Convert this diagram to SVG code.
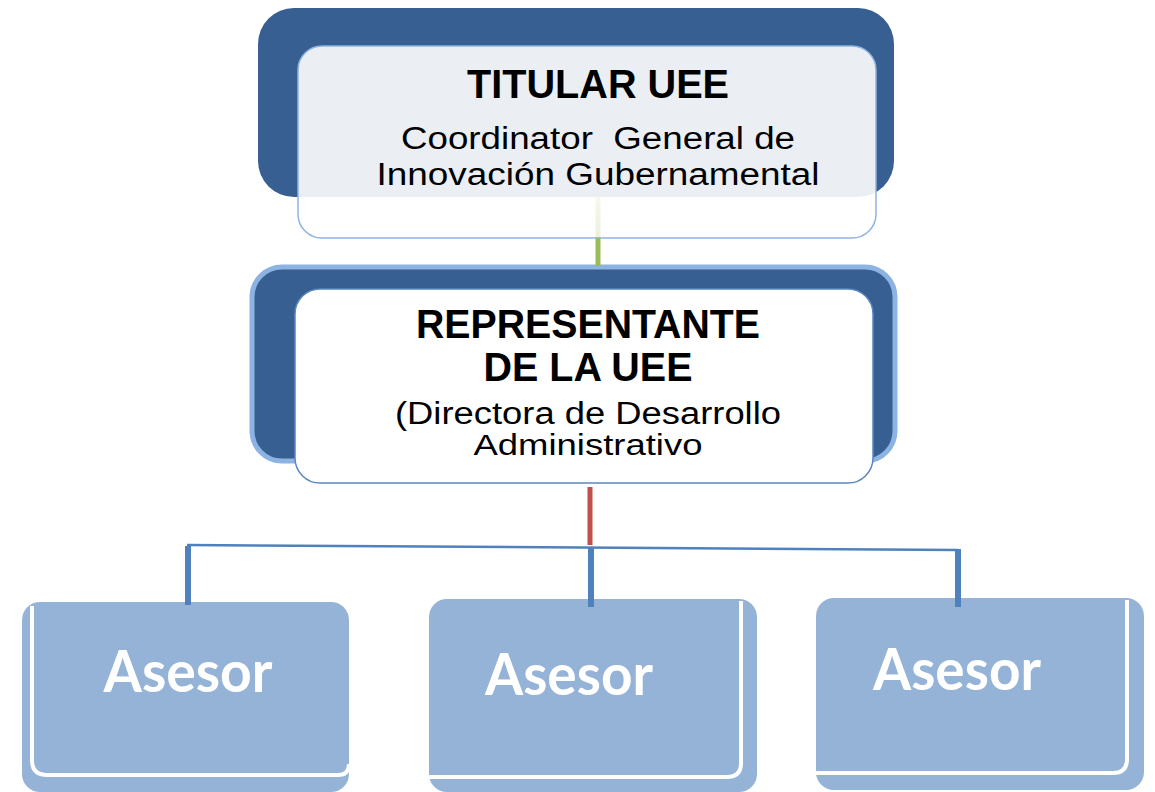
<svg xmlns="http://www.w3.org/2000/svg" width="1155" height="792" viewBox="0 0 1155 792">
<style>
.bold{font-family:"Liberation Sans",Arial,sans-serif;font-weight:bold;fill:#000;text-anchor:middle}
.reg{font-family:"Liberation Sans",Arial,sans-serif;fill:#000;text-anchor:middle}
.ases{font-family:Lato,"Open Sans",sans-serif;font-weight:bold;fill:#fff;text-anchor:middle;font-size:58px}
.box{fill:#95b3d7}
.edge{fill:none;stroke:#fff;stroke-width:4}
.drop{stroke:#4f81bd;stroke-width:6;fill:none}
</style>
<defs>
<linearGradient id="gr" gradientUnits="userSpaceOnUse" x1="0" y1="197" x2="0" y2="265">
<stop offset="0" stop-color="#9bbb59" stop-opacity="0.1"/>
<stop offset="0.58" stop-color="#9bbb59" stop-opacity="0.2"/>
<stop offset="0.62" stop-color="#9bbb59" stop-opacity="1"/>
<stop offset="1" stop-color="#9bbb59" stop-opacity="1"/>
</linearGradient>
</defs>
<rect width="1155" height="792" fill="#fff"/>
<g id="titular">
<rect x="258" y="8" width="636" height="189" rx="36" fill="#385f91"/>
<rect x="298" y="46" width="578" height="192" rx="24" fill="#fff" fill-opacity="0.9" stroke="#8db3e2" stroke-width="1.5"/>
<text class="bold" x="598" y="98" font-size="40" textLength="262" lengthAdjust="spacingAndGlyphs">TITULAR UEE</text>
<text class="reg" x="598" y="149" font-size="31" textLength="394" lengthAdjust="spacingAndGlyphs" xml:space="preserve" style="white-space:pre">Coordinator  General de</text>
<text class="reg" x="598" y="185" font-size="31" textLength="443" lengthAdjust="spacingAndGlyphs">Innovación Gubernamental</text>
</g>
<g id="representante">
<rect x="252" y="267" width="643" height="194" rx="30" fill="#385f91" stroke="#8db3e2" stroke-width="5"/>
<rect x="295" y="289" width="578" height="194" rx="25" fill="#fff" stroke="#5b87c0" stroke-width="1.5"/>
<text class="bold" x="588" y="338" font-size="40" textLength="344" lengthAdjust="spacingAndGlyphs">REPRESENTANTE</text>
<text class="bold" x="588" y="381" font-size="40" textLength="209" lengthAdjust="spacingAndGlyphs">DE LA UEE</text>
<text class="reg" x="588" y="424" font-size="31" textLength="386" lengthAdjust="spacingAndGlyphs">(Directora de Desarrollo</text>
<text class="reg" x="588" y="455" font-size="30" textLength="229" lengthAdjust="spacingAndGlyphs">Administrativo</text>
</g>
<g id="asesor1">
<rect class="box" x="22" y="602" width="327" height="190" rx="18"/>
<path class="edge" d="M32,606 L32,760 Q32,775 47,775 L338,775 Q349,775 349,764"/>
<text class="ases" x="188" y="692" textLength="169" lengthAdjust="spacingAndGlyphs">Asesor</text>
</g>
<g id="asesor2">
<rect class="box" x="429" y="599" width="328" height="193" rx="18"/>
<path class="edge" d="M429,777 L727,777 Q741,777 741,763 L741,601"/>
<text class="ases" x="569" y="695" textLength="168" lengthAdjust="spacingAndGlyphs">Asesor</text>
</g>
<g id="asesor3">
<rect class="box" x="816" y="598" width="328" height="192" rx="18"/>
<path class="edge" d="M816,773 L1113,773 Q1127,773 1127,759 L1127,600"/>
<text class="ases" x="957" y="690" textLength="168" lengthAdjust="spacingAndGlyphs">Asesor</text>
</g>
<g id="connectors">
<line x1="598" y1="197" x2="598" y2="266" stroke="url(#gr)" stroke-width="5"/>
<line x1="590" y1="487" x2="590" y2="545" stroke="#c0504d" stroke-width="5"/>
<line x1="187" y1="545" x2="958" y2="550" stroke="#4f81bd" stroke-width="2.5"/>
<line class="drop" x1="188" y1="546" x2="188" y2="605"/>
<line class="drop" x1="591" y1="547" x2="591" y2="607"/>
<line class="drop" x1="958" y1="549" x2="958" y2="607"/>
</g>
</svg>
